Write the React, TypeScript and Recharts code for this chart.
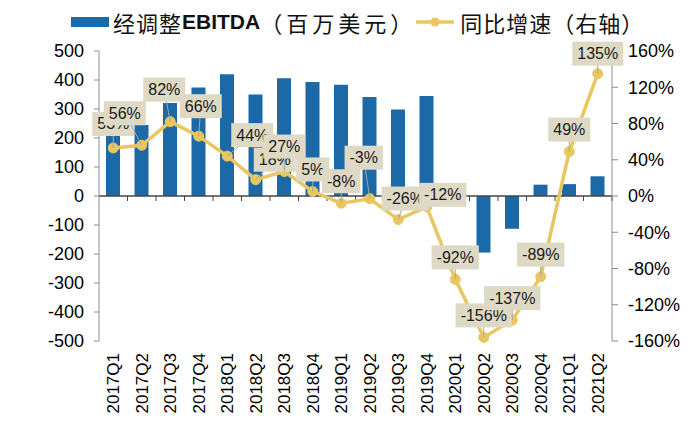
import React from 'react';
import {
  ComposedChart,
  Bar,
  Line,
  XAxis,
  YAxis,
  LabelList,
  ReferenceLine,
} from 'recharts';

const QUARTERS = [
  '2017Q1', '2017Q2', '2017Q3', '2017Q4',
  '2018Q1', '2018Q2', '2018Q3', '2018Q4',
  '2019Q1', '2019Q2', '2019Q3', '2019Q4',
  '2020Q1', '2020Q2', '2020Q3', '2020Q4',
  '2021Q1', '2021Q2',
];

// adjusted EBITDA, USD mn
const EBITDA = [
  290, 245, 321, 374, 420, 350, 406, 393, 384, 341, 298, 345,
  31, -195, -113, 39, 41, 68,
];

// yoy growth, %
const GROWTH = [
  53, 56, 82, 66, 44, 18, 27, 5, -8, -3, -26, -12,
  -92, -156, -137, -89, 49, 135,
];

const LEFT_TICKS = [-500, -400, -300, -200, -100, 0, 100, 200, 300, 400, 500];
const RIGHT_TICKS = [-160, -120, -80, -40, 0, 40, 80, 120, 160];

const BAR_COLOR = '#1c69a7';
const LINE_COLOR = '#e8c660';
const BOX_COLOR = '#ddd9c4';
const AXIS_COLOR = '#8c8c8c';
const FONT = '"Liberation Sans", Arial, sans-serif';
const CJK = '"Noto Sans CJK SC", sans-serif';

// where each label box sits relative to its point
const LABEL_OFFSETS: Record<number, [number, number]> = {
  0: [0, -24],
  1: [-17, -32],
  2: [-6, -32],
  3: [2, -30],
  4: [25, -21],
  5: [19, -20],
  6: [0, -25],
  9: [-6, -41],
  10: [7, -21],
  11: [16, -12],
  17: [0, -20],
};

const data = QUARTERS.map((q, i) => ({ q, ebitda: EBITDA[i], growth: GROWTH[i] }));

function textWidth(s: string) {
  let w = 0;
  for (const c of s) {
    if (c === '%') w += 14.2;
    else if (c === '-') w += 5.3;
    else w += 8.9;
  }
  return w;
}

function PctLabel(props: any) {
  const { x, y, value, index } = props;
  if (x == null || y == null) return null;
  const [dx, dy] = LABEL_OFFSETS[index] ?? [0, -22];
  const text = `${value}%`;
  const w = textWidth(text) + 10;
  const cx = x + dx;
  const cy = y + dy;
  return (
    <g>
      <line x1={x} y1={y} x2={cx} y2={cy} stroke="#a6a6a6" strokeWidth={1} />
      <rect x={cx - w / 2} y={cy - 12} width={w} height={24} fill={BOX_COLOR} />
      <text
        x={cx}
        y={cy}
        textAnchor="middle"
        dominantBaseline="central"
        fontSize={16}
        fontFamily={FONT}
        fill="#1a1a1a"
      >
        {text}
      </text>
    </g>
  );
}

function QuarterTick(props: any) {
  const { x, y, payload } = props;
  return (
    <text
      transform={`translate(${x},${y}) rotate(-90)`}
      textAnchor="end"
      dy="0.35em"
      fontSize={17}
      fontFamily={FONT}
      fill="#000"
    >
      {payload.value}
    </text>
  );
}

// zero line with tick marks on category boundaries
function ZeroLine(props: any) {
  const { x1, y1, x2 } = props;
  const n = QUARTERS.length;
  const step = (x2 - x1) / n;
  const ticks = [];
  for (let i = 1; i <= n; i++) {
    const tx = x1 + step * i;
    ticks.push(<line key={i} x1={tx} y1={y1} x2={tx} y2={y1 + 5} stroke="#444" strokeWidth={1} />);
  }
  return (
    <g>
      <line x1={x1} y1={y1} x2={x2} y2={y1} stroke="#444" strokeWidth={1.3} />
      {ticks}
    </g>
  );
}

function ChartLegend() {
  const base: React.CSSProperties = {
    fontFamily: CJK,
    fontSize: 22,
    color: '#111',
    whiteSpace: 'nowrap',
    lineHeight: '26px',
  };
  return (
    <div style={{ position: 'absolute', left: 71, top: 8, display: 'flex', alignItems: 'center', height: 28 }}>
      <div style={{ width: 38, height: 10, background: BAR_COLOR, marginRight: 4 }} />
      <span style={{ ...base, letterSpacing: 1 }}>经调整</span>
      <span style={{ ...base, fontFamily: FONT, fontWeight: 700, fontSize: 21 }}>EBITDA</span>
      <span style={{ ...base, letterSpacing: 4 }}>（百万美元）</span>
      <svg width={40} height={12} style={{ marginLeft: 0, marginRight: 4 }}>
        <line x1={0} y1={6} x2={38} y2={6} stroke={LINE_COLOR} strokeWidth={3.5} />
        <circle cx={19} cy={6} r={4.5} fill={LINE_COLOR} />
      </svg>
      <span style={{ ...base, letterSpacing: 1 }}>同比增速（右轴）</span>
    </div>
  );
}

export default function App() {
  return (
    <div style={{ position: 'absolute', left: 0, top: 0, width: 697, height: 430, background: '#fff' }}>
      <ComposedChart
        width={697}
        height={430}
        data={data}
        margin={{ top: 51, right: 0, bottom: 9, left: 0 }}
      >
        <XAxis
          dataKey="q"
          height={80}
          axisLine={false}
          tickLine={false}
          tickSize={0}
          tickMargin={12}
          interval={0}
          tick={<QuarterTick />}
        />
        <YAxis
          yAxisId="left"
          width={99}
          domain={[-500, 500]}
          ticks={LEFT_TICKS}
          interval={0}
          axisLine={{ stroke: AXIS_COLOR }}
          tickLine={{ stroke: AXIS_COLOR }}
          tickSize={5}
          tickMargin={10}
          tick={{ fontSize: 18, fill: '#000', fontFamily: FONT }}
        />
        <YAxis
          yAxisId="right"
          orientation="right"
          width={85}
          domain={[-160, 160]}
          ticks={RIGHT_TICKS}
          interval={0}
          axisLine={{ stroke: AXIS_COLOR }}
          tickLine={{ stroke: AXIS_COLOR }}
          tickSize={6}
          tickMargin={10}
          tickFormatter={(v: number) => `${v}%`}
          tick={{ fontSize: 18, fill: '#000', fontFamily: FONT }}
        />
        <Bar
          yAxisId="left"
          dataKey="ebitda"
          fill={BAR_COLOR}
          barSize={14}
          isAnimationActive={false}
        />
        <ReferenceLine yAxisId="left" y={0} shape={<ZeroLine />} />
        <Line
          yAxisId="right"
          dataKey="growth"
          stroke={LINE_COLOR}
          strokeWidth={3.5}
          dot={{ r: 5, fill: LINE_COLOR, stroke: LINE_COLOR, strokeWidth: 1 }}
          activeDot={false}
          isAnimationActive={false}
        >
          <LabelList dataKey="growth" content={<PctLabel />} />
        </Line>
      </ComposedChart>
      <ChartLegend />
    </div>
  );
}
